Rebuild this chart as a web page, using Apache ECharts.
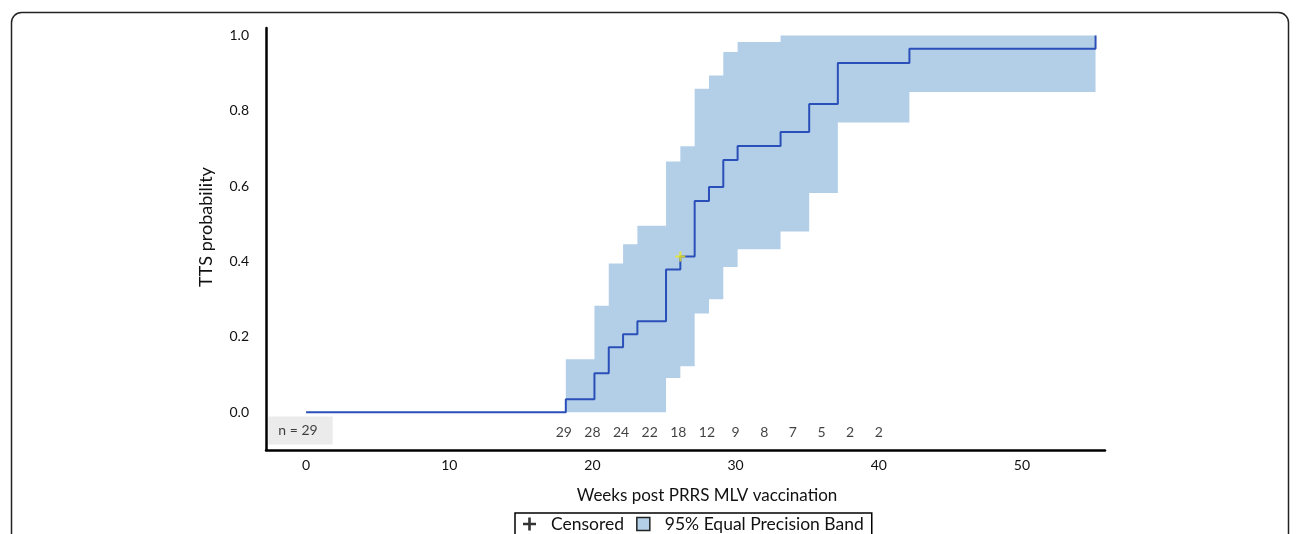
<!DOCTYPE html>
<html>
<head>
<meta charset="utf-8">
<script src="https://cdn.jsdelivr.net/npm/echarts@6/dist/echarts.min.js"></script>
<style>
  html, body { margin: 0; padding: 0; background: #fff; }
  #main { width: 1296px; height: 534px; }
</style>
</head>
<body>
<div id="main"></div>
<script>
// Kaplan-Meier style step curve (cumulative TTS probability), weeks
const kmWeeks = [0, 18.14, 20.14, 21.14, 22.14, 23.14, 25.14, 26.14, 27.14, 28.14, 29.14, 30.14, 33.14, 35.14, 37.14, 42.14, 55.14];
const kmProb  = [0, 0.0345, 0.1034, 0.1724, 0.2069, 0.2414, 0.3793, 0.4138, 0.561, 0.598, 0.670, 0.707, 0.744, 0.818, 0.927, 0.965, 1.0];

// 95% equal precision band (value holds from each week to the next)
const bandWeeks = [18.14, 20.14, 21.14, 22.14, 23.14, 25.14, 26.14, 27.14, 28.14, 29.14, 30.14, 33.14, 35.14, 37.14, 42.14, 55.14];
const bandLower = [0, 0, 0, 0, 0, 0.091, 0.122, 0.262, 0.300, 0.386, 0.433, 0.480, 0.582, 0.769, 0.850, 0.850];
const bandUpper = [0.141, 0.283, 0.395, 0.446, 0.495, 0.666, 0.706, 0.859, 0.894, 0.956, 0.983, 1.0, 1.0, 1.0, 1.0, 1.0];

// censored observations
const censorWeeks = [26.14];
const censorProb  = [0.4138];

// number at risk
const atRiskWeeks = [18, 20, 22, 24, 26, 28, 30, 32, 34, 36, 38, 40];
const atRiskCount = [29, 28, 24, 22, 18, 12, 9, 8, 7, 5, 2, 2];
const nTotal = 29;

const xTickLabels = [0, 10, 20, 30, 40, 50];
const yTickLabels = [0, 0.2, 0.4, 0.6, 0.8, 1.0];

const FONT = "Lato, 'Open Sans', sans-serif";
const lineColor = "#2b4fb8";
const bandColor = "#b3cfe8";
const plusPath = "path://M4,0H6V4H10V6H6V10H4V6H0V4H4Z";

const kmData = kmWeeks.map((w, i) => [w, kmProb[i]]);
const bandData = bandWeeks.map((w, i) => [w, bandLower[i], bandUpper[i]]);
const censorData = censorWeeks.map((w, i) => [w, censorProb[i]]);
const atRiskData = atRiskWeeks.map((w, i) => [w, -0.053, atRiskCount[i]]);

const isTick = (v, list) => list.some(t => Math.abs(v - t) < 1e-6);

// whole band drawn as one step polygon
function renderBand(params, api) {
  if (params.dataIndex !== 0) return null;
  const n = bandWeeks.length;
  const pts = [];
  for (let i = 0; i < n - 1; i++) {
    pts.push(api.coord([bandWeeks[i], bandUpper[i]]));
    pts.push(api.coord([bandWeeks[i + 1], bandUpper[i]]));
  }
  for (let i = n - 2; i >= 0; i--) {
    pts.push(api.coord([bandWeeks[i + 1], bandLower[i]]));
    pts.push(api.coord([bandWeeks[i], bandLower[i]]));
  }
  return { type: "polygon", shape: { points: pts }, style: { fill: bandColor } };
}

const chart = echarts.init(document.getElementById("main"));
chart.setOption({
  animation: false,
  grid: { left: 266, right: 191, top: 28, bottom: 84, containLabel: false },
  xAxis: {
    type: "value",
    min: -2.8,
    max: 55.8,
    interval: 0.2,
    splitLine: { show: false },
    axisTick: { show: false },
    axisLine: { onZero: false, lineStyle: { color: "#000", width: 2.5 } },
    axisLabel: {
      margin: 8,
      color: "#111",
      fontSize: 14,
      fontFamily: FONT,
      formatter: v => isTick(v, xTickLabels) ? String(Math.round(v)) : ""
    }
  },
  yAxis: {
    type: "value",
    min: -0.1,
    max: 1.02,
    interval: 0.1,
    splitLine: { show: false },
    axisTick: { show: false },
    axisLine: { show: true, onZero: false, lineStyle: { color: "#000", width: 2.5 } },
    axisLabel: {
      margin: 17,
      color: "#111",
      fontSize: 14,
      fontFamily: FONT,
      formatter: v => isTick(v, yTickLabels) ? v.toFixed(1) : ""
    }
  },
  legend: {
    left: 515,
    top: 513,
    padding: [2, 8, 20, 8],
    itemGap: 12,
    itemWidth: 13,
    itemHeight: 13,
    borderColor: "#000",
    borderWidth: 1.5,
    textStyle: { fontSize: 17.5, fontFamily: FONT, color: "#111", padding: [0, 0, 0, 10] },
    data: [
      { name: "Censored", icon: plusPath, itemStyle: { color: "#000" } },
      { name: "95% Equal Precision Band", icon: "rect", itemStyle: { color: bandColor, borderColor: "#222", borderWidth: 1.5 } }
    ]
  },
  graphic: [
    {
      type: "rect",
      left: 9, top: 10,
      shape: { width: 1277, height: 600, r: 10 },
      style: { fill: "none", stroke: "#222", lineWidth: 1.5 },
      silent: true
    },
    {
      type: "text",
      x: 707, y: 496,
      style: { text: "Weeks post PRRS MLV vaccination", font: "17px " + FONT, fill: "#111", align: "center", verticalAlign: "middle" }
    },
    {
      type: "text",
      x: 206, y: 227,
      rotation: Math.PI / 2,
      style: { text: "TTS probability", font: "18px " + FONT, fill: "#111", align: "center", verticalAlign: "middle" }
    }
  ],
  series: [
    {
      name: "95% Equal Precision Band",
      type: "custom",
      data: bandData,
      encode: { x: 0, y: [1, 2] },
      renderItem: renderBand,
      itemStyle: { color: bandColor },
      silent: true,
      z: 1
    },
    {
      name: "TTS",
      type: "line",
      step: "end",
      data: kmData,
      symbol: "none",
      lineStyle: { color: lineColor, width: 2 },
      z: 3
    },
    {
      name: "Censored",
      type: "scatter",
      data: censorData,
      symbol: plusPath,
      symbolSize: 10,
      itemStyle: { color: "#f0e81a" },
      z: 4
    },
    {
      name: "atRisk",
      type: "scatter",
      data: atRiskData,
      symbolSize: 0,
      label: {
        show: true,
        position: "inside",
        fontSize: 14,
        fontFamily: FONT,
        color: "#111",
        formatter: p => String(p.value[2])
      }
    },
    {
      name: "nBox",
      type: "scatter",
      data: [[-0.39, -0.048]],
      symbolSize: 0,
      label: {
        show: true,
        position: "inside",
        fontSize: 14,
        fontFamily: FONT,
        color: "#111",
        backgroundColor: "#e6e6e6",
        padding: [7, 15, 7, 10],
        formatter: "n = " + nTotal
      }
    }
  ]
});
</script>
</body>
</html>
